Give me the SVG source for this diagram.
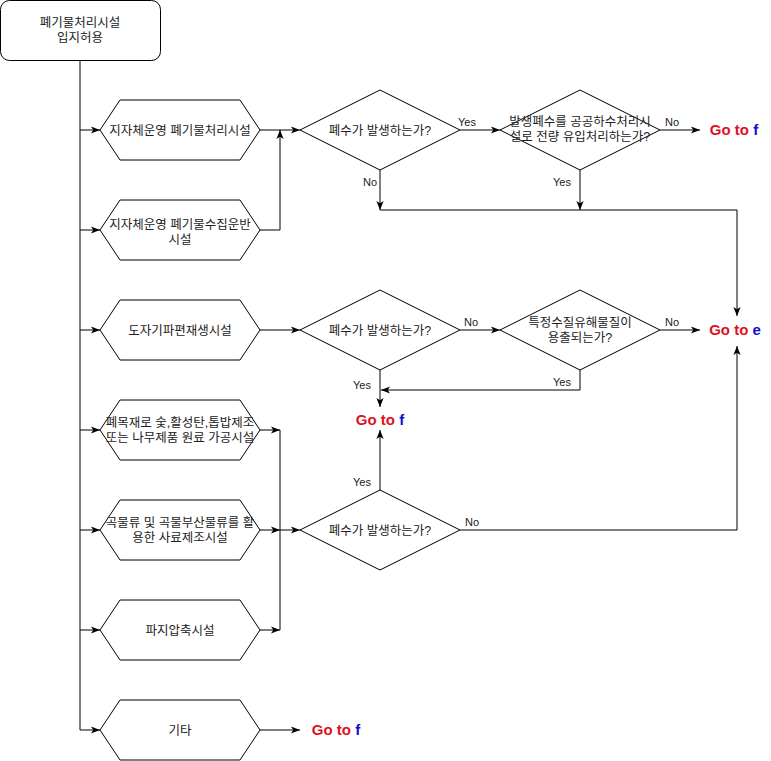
<svg xmlns="http://www.w3.org/2000/svg" width="771" height="761" viewBox="0 0 771 761">
<defs>
<marker id="arr" viewBox="0 0 10 10" refX="10" refY="5" markerWidth="9" markerHeight="9" markerUnits="userSpaceOnUse" orient="auto">
<path d="M0,1 L10,5 L0,9 L2.5,5 z" fill="#000"/>
</marker>
<style>
.shp{fill:#fff;stroke:#000;stroke-width:1}
.ln{fill:none;stroke:#000;stroke-width:1}
.ar{fill:none;stroke:#000;stroke-width:1;marker-end:url(#arr)}
.t{font-family:"Liberation Sans","Noto Sans CJK KR",sans-serif;font-size:12.5px;fill:#222;text-anchor:middle}
.lb{font-family:"Liberation Sans","Noto Sans CJK KR",sans-serif;font-size:11px;fill:#222;text-anchor:middle}
.go{font-family:"Liberation Sans",Arial,sans-serif;font-size:15px;font-weight:bold;fill:#e0101e;text-anchor:middle}
.bl{fill:#1010c8}
</style>
</defs>
<rect width="771" height="761" fill="#fff"/>

<g id="connectors">
<path class="ln" d="M80,60 V730"/>
<path class="ar" d="M80,130 H100"/>
<path class="ar" d="M80,230 H100"/>
<path class="ar" d="M80,330 H100"/>
<path class="ar" d="M80,430 H100"/>
<path class="ar" d="M80,530 H100"/>
<path class="ar" d="M80,630 H100"/>
<path class="ar" d="M80,730 H100"/>
<path class="ar" d="M260,130 H300"/>
<path class="ar" d="M260,230 H280 V130"/>
<path class="ar" d="M460,130 H500"/>
<path class="ar" d="M660,130 H700"/>
<path class="ar" d="M380,170 V210"/>
<path class="ar" d="M580,170 V210"/>
<path class="ar" d="M380,210 H737 V316"/>
<path class="ar" d="M260,330 H300"/>
<path class="ar" d="M460,330 H500"/>
<path class="ar" d="M660,330 H700"/>
<path class="ar" d="M380,370 V407"/>
<path class="ar" d="M580,370 V390 H381"/>
<path class="ar" d="M260,430 H280"/>
<path class="ar" d="M260,530 H280"/>
<path class="ar" d="M260,630 H280"/>
<path class="ln" d="M280,430 V630"/>
<path class="ar" d="M280,530 H300"/>
<path class="ar" d="M380,490 V430"/>
<path class="ar" d="M460,530 H737 V346"/>
<path class="ar" d="M260,730 H300"/>
<text class="lb" x="467" y="126">Yes</text>
<text class="lb" x="370" y="186">No</text>
<text class="lb" x="672" y="126">No</text>
<text class="lb" x="562" y="186">Yes</text>
<text class="lb" x="471" y="326">No</text>
<text class="lb" x="362" y="389">Yes</text>
<text class="lb" x="672" y="326">No</text>
<text class="lb" x="562" y="386">Yes</text>
<text class="lb" x="362" y="486">Yes</text>
<text class="lb" x="472" y="526">No</text>
</g>

<g id="start">
<rect class="shp" x="0.5" y="0.5" width="160" height="60" rx="9"/>
<text class="t" x="80" y="27">폐기물처리시설</text>
<text class="t" x="80" y="42">입지허용</text>
</g>

<g id="hex1">
<path class="shp" d="M100,130 L120,100 H240 L260,130 L240,160 H120 z"/>
<text class="t" x="180" y="135">지자체운영 폐기물처리시설</text>
</g>
<g id="hex2">
<path class="shp" d="M100,230 L120,200 H240 L260,230 L240,260 H120 z"/>
<text class="t" x="180" y="229">지자체운영 폐기물수집운반</text>
<text class="t" x="180" y="244">시설</text>
</g>
<g id="hex3">
<path class="shp" d="M100,330 L120,300 H240 L260,330 L240,360 H120 z"/>
<text class="t" x="180" y="335">도자기파편재생시설</text>
</g>
<g id="hex4">
<path class="shp" d="M100,430 L120,400 H240 L260,430 L240,460 H120 z"/>
<text class="t" x="180" y="427">폐목재로 숯,활성탄,톱밥제조</text>
<text class="t" x="180" y="442">또는 나무제품 원료 가공시설</text>
</g>
<g id="hex5">
<path class="shp" d="M100,530 L120,500 H240 L260,530 L240,560 H120 z"/>
<text class="t" x="180" y="527">곡물류 및 곡물부산물류를 활</text>
<text class="t" x="180" y="542">용한 사료제조시설</text>
</g>
<g id="hex6">
<path class="shp" d="M100,630 L120,600 H240 L260,630 L240,660 H120 z"/>
<text class="t" x="180" y="635">파지압축시설</text>
</g>
<g id="hex7">
<path class="shp" d="M100,730 L120,700 H240 L260,730 L240,760 H120 z"/>
<text class="t" x="180" y="735">기타</text>
</g>

<g id="d1">
<path class="shp" d="M300,130 L380,90 L460,130 L380,170 z"/>
<text class="t" x="380" y="135">폐수가 발생하는가?</text>
</g>
<g id="d2">
<path class="shp" d="M500,130 L580,90 L660,130 L580,170 z"/>
<text class="t" x="580" y="126">발생폐수를 공공하수처리시</text>
<text class="t" x="580" y="141">설로 전량 유입처리하는가?</text>
</g>
<g id="d3">
<path class="shp" d="M300,330 L380,290 L460,330 L380,370 z"/>
<text class="t" x="380" y="335">폐수가 발생하는가?</text>
</g>
<g id="d4">
<path class="shp" d="M500,330 L580,290 L660,330 L580,370 z"/>
<text class="t" x="580" y="327">특정수질유해물질이</text>
<text class="t" x="580" y="342">용출되는가?</text>
</g>
<g id="d5">
<path class="shp" d="M300,530 L380,490 L460,530 L380,570 z"/>
<text class="t" x="380" y="535">폐수가 발생하는가?</text>
</g>

<g id="goto1"><text class="go" x="734" y="135">Go to <tspan class="bl">f</tspan></text></g>
<g id="goto2"><text class="go" x="735" y="335">Go to <tspan class="bl">e</tspan></text></g>
<g id="goto3"><text class="go" x="380" y="425">Go to <tspan class="bl">f</tspan></text></g>
<g id="goto4"><text class="go" x="336" y="735">Go to <tspan class="bl">f</tspan></text></g>
</svg>
